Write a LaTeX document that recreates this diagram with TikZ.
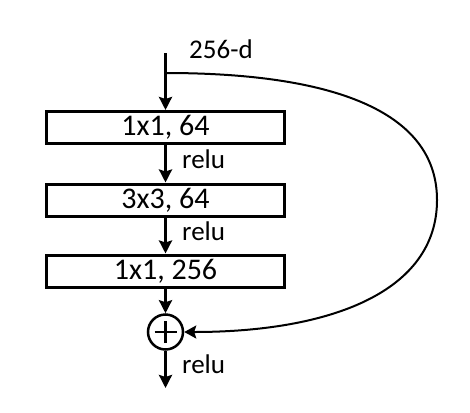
\documentclass[tikz,border=0pt]{standalone}
\usepackage{fontspec}
\setmainfont{Carlito}
\usetikzlibrary{arrows.meta}
\begin{document}
\begin{tikzpicture}[x=1pt,y=-1pt,
  lbl/.style={font=\fontsize{27}{30}\selectfont, inner sep=0pt},
  layer/.style={draw, line width=3pt, minimum width=238pt, minimum height=32pt, inner sep=0pt, font=\fontsize{30}{32}\selectfont},
  flow/.style={line width=3pt, -{Stealth[length=13pt,width=13pt,inset=2pt]}},
  skip/.style={line width=2pt, -{Stealth[length=12pt,width=13pt,inset=2pt]}}]
\useasboundingbox (0,0) rectangle (470,412);
\coordinate (top) at (165.5,53);
\coordinate (br) at (165.5,73);
\node[layer] (b1) at (165.5,127.5) {1x1, 64};
\node[layer] (b2) at (165.5,200) {3x3, 64};
\node[layer] (b3) at (165.5,271) {1x1, 256};
\node[draw, circle, line width=2.5pt, minimum size=35pt, inner sep=0pt] (sum) at (165.5,332) {};
\draw[line width=2.5pt] ([yshift=-11pt]sum.center) -- ([yshift=11pt]sum.center) ([xshift=-11pt]sum.center) -- ([xshift=11pt]sum.center);
\coordinate (out) at (165.5,388);
\node[lbl, anchor=base west] (d) at (189,59) {256-d};
\node[lbl, anchor=base west] (r1) at (182,168) {relu};
\node[lbl, anchor=base west] (r2) at (182,240) {relu};
\node[lbl, anchor=base west] (r3) at (182,373) {relu};
\draw[flow] (top) -- (b1.north);
\draw[flow] (b1) -- (b2);
\draw[flow] (b2) -- (b3);
\draw[flow] (b3) -- (sum);
\draw[flow] (sum) -- (out);
\draw[skip] (br) .. controls (330,73) and (437,110) .. (437,200) .. controls (437,292) and (330,332) .. (sum.east);
\end{tikzpicture}
\end{document}
